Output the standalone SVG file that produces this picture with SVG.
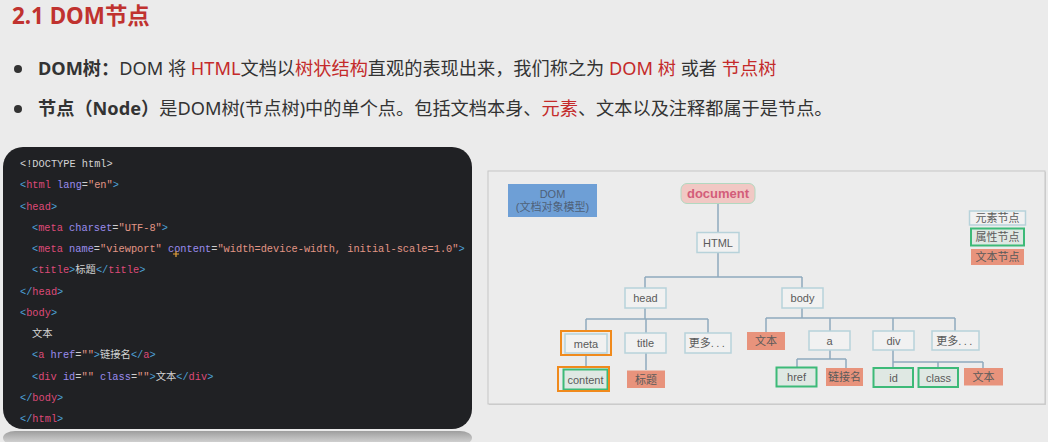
<svg xmlns="http://www.w3.org/2000/svg" width="1048" height="442" viewBox="0 0 1048 442">
  <defs>
    <style>
      .title { font-family: "Noto Sans", "Noto Sans CJK SC", sans-serif; font-size: 22.4px; font-weight: bold; fill: #c0322f; }
      .bul { font-family: "Noto Sans", "Noto Sans CJK SC", sans-serif; font-size: 18.2px; fill: #333333; }
      .red { fill: #c42a2a; }
      .b { font-weight: bold; }
      .code { font-family: "Liberation Mono", "Noto Sans CJK SC", monospace; font-size: 10.3px; fill: #d4d4d4; }
      .p { fill: #4ea2d8; }
      .t { fill: #de4a78; }
      .a { fill: #9a8cee; }
      .v { fill: #e39686; }
      .eq { fill: #cfcfcf; }
      .lbl { font-family: "Liberation Sans", "Noto Sans CJK SC", sans-serif; font-size: 11px; fill: #5a5a5a; text-anchor: middle; }
      .elem { fill: #f1f1f1; stroke: #b7d2da; stroke-width: 1.5; }
      .attr { fill: #dfe8e3; stroke: #3dba78; stroke-width: 2; }
      .txt { fill: #e8937c; }
      .hl { fill: none; stroke: #f08a1c; stroke-width: 2; }
      .link { fill: none; stroke: #8fa9bd; stroke-width: 1.5; }
    </style>
    <linearGradient id="reflect" x1="0" y1="0" x2="0" y2="1">
      <stop offset="0" stop-color="#9e9e9e"/>
      <stop offset="1" stop-color="#dcdcdc"/>
    </linearGradient>
  </defs>

  <!-- page background -->
  <rect x="0" y="0" width="1048" height="442" fill="#ebebeb"/>

  <!-- heading and bullets -->
  <text class="title" x="12" y="24">2.1 DOM节点</text>

  <circle cx="18" cy="69" r="4" fill="#333333"/>
  <text class="bul" x="38" y="75"><tspan class="b">DOM树：</tspan>DOM 将 <tspan class="red">HTML</tspan>文档以<tspan class="red">树状结构</tspan>直观的表现出来，我们称之为 <tspan class="red">DOM 树</tspan> 或者 <tspan class="red">节点树</tspan></text>

  <circle cx="18" cy="109" r="4" fill="#333333"/>
  <text class="bul" x="38" y="115"><tspan class="b">节点（Node）</tspan>是DOM树(节点树)中的单个点。包括文档本身、<tspan class="red">元素</tspan>、文本以及注释都属于是节点。</text>

  <!-- code panel -->
  <g id="code">
    <rect x="3" y="431" width="469" height="14" rx="12" fill="url(#reflect)"/>
    <rect x="3" y="147" width="469" height="282" rx="20" fill="#202124"/>
    <text class="code" x="20" y="167">&lt;!DOCTYPE html&gt;</text>
    <text class="code" x="20" y="188.3"><tspan class="p">&lt;</tspan><tspan class="t">html</tspan> <tspan class="a">lang</tspan><tspan class="eq">=</tspan><tspan class="v">"en"</tspan><tspan class="p">&gt;</tspan></text>
    <text class="code" x="20" y="209.5"><tspan class="p">&lt;</tspan><tspan class="t">head</tspan><tspan class="p">&gt;</tspan></text>
    <text class="code" x="32" y="230.8"><tspan class="p">&lt;</tspan><tspan class="t">meta</tspan> <tspan class="a">charset</tspan><tspan class="eq">=</tspan><tspan class="v">"UTF-8"</tspan><tspan class="p">&gt;</tspan></text>
    <text class="code" x="32" y="252"><tspan class="p">&lt;</tspan><tspan class="t">meta</tspan> <tspan class="a">name</tspan><tspan class="eq">=</tspan><tspan class="v">"viewport"</tspan> <tspan class="a">content</tspan><tspan class="eq">=</tspan><tspan class="v">"width=device-width, initial-scale=1.0"</tspan><tspan class="p">&gt;</tspan></text>
    <text class="code" x="32" y="273.3"><tspan class="p">&lt;</tspan><tspan class="t">title</tspan><tspan class="p">&gt;</tspan>标题<tspan class="p">&lt;/</tspan><tspan class="t">title</tspan><tspan class="p">&gt;</tspan></text>
    <text class="code" x="20" y="294.5"><tspan class="p">&lt;/</tspan><tspan class="t">head</tspan><tspan class="p">&gt;</tspan></text>
    <text class="code" x="20" y="315.8"><tspan class="p">&lt;</tspan><tspan class="t">body</tspan><tspan class="p">&gt;</tspan></text>
    <text class="code" x="32" y="337">文本</text>
    <text class="code" x="32" y="358.3"><tspan class="p">&lt;</tspan><tspan class="t">a</tspan> <tspan class="a">href</tspan><tspan class="eq">=</tspan><tspan class="v">""</tspan><tspan class="p">&gt;</tspan>链接名<tspan class="p">&lt;/</tspan><tspan class="t">a</tspan><tspan class="p">&gt;</tspan></text>
    <text class="code" x="32" y="379.5"><tspan class="p">&lt;</tspan><tspan class="t">div</tspan> <tspan class="a">id</tspan><tspan class="eq">=</tspan><tspan class="v">""</tspan> <tspan class="a">class</tspan><tspan class="eq">=</tspan><tspan class="v">""</tspan><tspan class="p">&gt;</tspan>文本<tspan class="p">&lt;/</tspan><tspan class="t">div</tspan><tspan class="p">&gt;</tspan></text>
    <text class="code" x="20" y="400.8"><tspan class="p">&lt;/</tspan><tspan class="t">body</tspan><tspan class="p">&gt;</tspan></text>
    <text class="code" x="20" y="422"><tspan class="p">&lt;/</tspan><tspan class="t">html</tspan><tspan class="p">&gt;</tspan></text>
    <!-- pointer cross -->
    <path d="M176 251v6M173 254h6" stroke="#e8a23a" stroke-width="1.2"/>
  </g>

  <!-- tree panel -->
  <rect x="489" y="172" width="557" height="233" fill="#d0d0d0"/>
  <rect x="488" y="171" width="557" height="233" fill="#ececec" stroke="#c6c6c6" stroke-width="1"/>

  <!-- connectors -->
  <g id="connectors">
    <path class="link" d="M718 203V232M718 253V277M645 277H802M645 277V288M802 277V288"/>
    <path class="link" d="M645 308V319M586 319H708M586 319V331M646 319V333M708 319V333"/>
    <path class="link" d="M586 355V367M646 353V370"/>
    <path class="link" d="M802 308V318M766 318H955M766 318V332M830 318V331M893 318V331M955 318V331"/>
    <path class="link" d="M830 350V359M797 359H846M797 359V367M846 359V368"/>
    <path class="link" d="M893 350V362M893 362H983M893 362V368M938 362V368M983 362V368"/>
  </g>

  <g id="dom-label">
    <rect x="508" y="184" width="89" height="33" fill="#6e9fd6"/>
    <text class="lbl" x="552.5" y="198" style="fill:#4f6178">DOM</text>
    <text class="lbl" x="552.5" y="211" style="fill:#4f6178">(文档对象模型)</text>
  </g>

  <g id="document">
    <rect x="681" y="183.5" width="74" height="20" rx="6" fill="#f1c8c4" stroke="#b2d8c0" stroke-width="1"/>
    <text x="718" y="197.5" text-anchor="middle" font-family="Liberation Sans, sans-serif" font-size="13" font-weight="bold" fill="#d35d7a">document</text>
  </g>

  <g id="html">
    <rect class="elem" x="697" y="232.5" width="42" height="20"/>
    <text class="lbl" x="718" y="246.5">HTML</text>
  </g>

  <g id="head">
    <rect class="elem" x="625" y="288" width="41" height="20"/>
    <text class="lbl" x="645.5" y="302">head</text>
  </g>

  <g id="body">
    <rect class="elem" x="782" y="288" width="41" height="20"/>
    <text class="lbl" x="802.5" y="302">body</text>
  </g>

  <g id="meta">
    <rect class="elem" x="565" y="334" width="42" height="19"/>
    <rect class="hl" x="561" y="331" width="50" height="24"/>
    <text class="lbl" x="586" y="347.5">meta</text>
  </g>

  <g id="title">
    <rect class="elem" x="625" y="333" width="41" height="20"/>
    <text class="lbl" x="645.5" y="347">title</text>
  </g>

  <g id="head-more">
    <rect class="elem" x="685" y="333" width="46" height="20"/>
    <text class="lbl" x="708" y="347">更多<tspan letter-spacing="2.5">...</tspan></text>
  </g>

  <g id="content">
    <rect class="attr" x="563.5" y="369.5" width="44" height="20"/>
    <rect class="hl" x="558" y="367" width="51" height="24"/>
    <text class="lbl" x="585.5" y="383.5">content</text>
  </g>

  <g id="title-text">
    <rect class="txt" x="627" y="370.5" width="38" height="17.5"/>
    <text class="lbl" x="646" y="383.5">标题</text>
  </g>

  <g id="body-text">
    <rect class="txt" x="747" y="332" width="38" height="18"/>
    <text class="lbl" x="766" y="345">文本</text>
  </g>

  <g id="a">
    <rect class="elem" x="809" y="331" width="41" height="19"/>
    <text class="lbl" x="829.5" y="344.5">a</text>
  </g>

  <g id="div">
    <rect class="elem" x="873" y="331" width="41" height="19"/>
    <text class="lbl" x="893.5" y="344.5">div</text>
  </g>

  <g id="body-more">
    <rect class="elem" x="932" y="331" width="47" height="19"/>
    <text class="lbl" x="955.5" y="344.5">更多<tspan letter-spacing="2.5">...</tspan></text>
  </g>

  <g id="href">
    <rect class="attr" x="776.5" y="367.5" width="40" height="19"/>
    <text class="lbl" x="796.5" y="381">href</text>
  </g>

  <g id="link-text">
    <rect class="txt" x="826" y="368" width="37" height="18"/>
    <text class="lbl" x="844.5" y="381">链接名</text>
  </g>

  <g id="id">
    <rect class="attr" x="873.5" y="368" width="39.5" height="19"/>
    <text class="lbl" x="893.5" y="381.5">id</text>
  </g>

  <g id="class">
    <rect class="attr" x="918.5" y="368" width="39.5" height="19"/>
    <text class="lbl" x="938.5" y="381.5">class</text>
  </g>

  <g id="div-text">
    <rect class="txt" x="964" y="368" width="39" height="17.5"/>
    <text class="lbl" x="983.5" y="381">文本</text>
  </g>

  <!-- legend -->
  <g id="legend-element">
    <rect class="elem" x="969.5" y="211" width="56" height="14" stroke-width="1.2"/>
    <text class="lbl" x="997.5" y="222">元素节点</text>
  </g>
  <g id="legend-attribute">
    <rect class="attr" x="971" y="228.5" width="53" height="17"/>
    <text class="lbl" x="997.5" y="241">属性节点</text>
  </g>
  <g id="legend-text">
    <rect class="txt" x="971" y="249" width="53" height="16"/>
    <text class="lbl" x="997.5" y="261">文本节点</text>
  </g>
</svg>
